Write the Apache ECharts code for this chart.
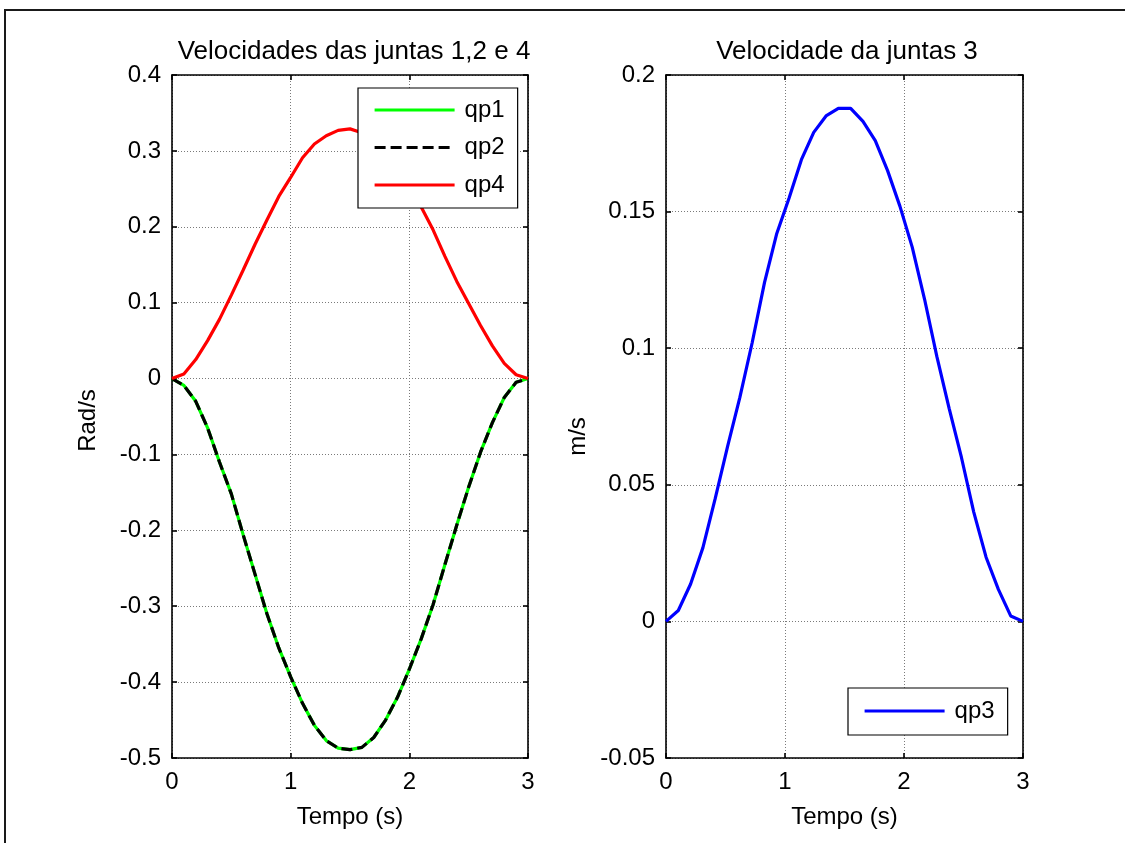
<!DOCTYPE html>
<html>
<head>
<meta charset="utf-8">
<script src="https://cdn.jsdelivr.net/npm/echarts@6/dist/echarts.min.js"></script>
<style>
html,body{margin:0;padding:0;background:#fff;}
#chart{width:1125px;height:843px;}
</style>
</head>
<body>
<div id="chart"></div>
<script>
// ---- data ----
const tLeft = [0,0.1,0.2,0.3,0.4,0.5,0.6,0.7,0.8,0.9,1.0,1.1,1.2,1.3,1.4,1.5,1.6,1.7,1.8,1.9,2.0,2.1,2.2,2.3,2.4,2.5,2.6,2.7,2.8,2.9,3.0];
const qp1 = [0,-0.009,-0.030,-0.065,-0.110,-0.152,-0.206,-0.258,-0.310,-0.355,-0.393,-0.428,-0.457,-0.477,-0.487,-0.489,-0.486,-0.473,-0.450,-0.420,-0.383,-0.343,-0.298,-0.245,-0.193,-0.143,-0.097,-0.058,-0.025,-0.005,0];
const qp2 = [0,-0.009,-0.030,-0.065,-0.110,-0.152,-0.206,-0.258,-0.310,-0.355,-0.393,-0.428,-0.457,-0.477,-0.487,-0.489,-0.486,-0.473,-0.450,-0.420,-0.383,-0.343,-0.298,-0.245,-0.193,-0.143,-0.097,-0.058,-0.025,-0.005,0];
const qp4 = [0,0.006,0.025,0.050,0.078,0.110,0.143,0.177,0.209,0.240,0.265,0.291,0.309,0.320,0.327,0.329,0.324,0.313,0.296,0.273,0.248,0.226,0.196,0.161,0.128,0.099,0.070,0.043,0.020,0.005,0];
const tRight = [0,0.1034,0.2069,0.3103,0.4138,0.5172,0.6207,0.7241,0.8276,0.9310,1.0345,1.1379,1.2414,1.3448,1.4483,1.5517,1.6552,1.7586,1.8621,1.9655,2.0690,2.1724,2.2759,2.3793,2.4828,2.5862,2.6897,2.7931,2.8966,3.0];
const qp3 = [0,0.004,0.0137,0.027,0.045,0.064,0.082,0.102,0.124,0.142,0.155,0.169,0.179,0.185,0.1878,0.1878,0.183,0.176,0.165,0.152,0.137,0.118,0.097,0.078,0.060,0.040,0.0235,0.0117,0.002,0];
const titles = ['Velocidades das juntas 1,2 e 4', 'Velocidade da juntas 3'];
const xName = 'Tempo (s)';
const yNames = ['Rad/s', 'm/s'];
const leftLegend = ['qp1', 'qp2', 'qp4'];
const rightLegend = ['qp3'];

const FONT = "'Liberation Sans', Arial, Helvetica, sans-serif";
const pairs = (xs, ys) => xs.map((x, i) => [x, ys[i]]);

const chart = echarts.init(document.getElementById('chart'), null, {renderer: 'canvas'});

const axisLine = {show: true, onZero: false, lineStyle: {color: '#000', width: 1.6}};
const tick = {show: true, inside: true, length: 5, lineStyle: {color: '#000', width: 1.6}};
const split = {show: true, lineStyle: {color: '#7a7a7a', width: 1, type: [1, 2]}};
const lbl = {color: '#000', fontSize: 24, fontFamily: FONT};
const LW = 3.2;

function xAxes(gi) {
  return [
    {gridIndex: gi, type: 'value', position: 'bottom', min: 0, max: 3, interval: 1,
     axisLine, axisTick: tick, splitLine: split,
     axisLabel: Object.assign({margin: 12}, lbl),
     name: xName, nameLocation: 'middle', nameGap: 47,
     nameTextStyle: {color: '#000', fontSize: 24, fontFamily: FONT, lineHeight: 24}},
    {gridIndex: gi, type: 'value', position: 'top', min: 0, max: 3, interval: 1,
     axisLine, axisTick: tick, splitLine: {show: false}, axisLabel: {show: false}}
  ];
}
function yAxes(gi, min, max, interval, name, gap, shift) {
  return [
    {gridIndex: gi, type: 'value', position: 'left', min, max, interval,
     axisLine, axisTick: tick, splitLine: split,
     axisLabel: Object.assign({margin: 11}, lbl),
     name, nameLocation: 'middle', nameGap: gap, nameRotate: 90,
     nameTextStyle: {color: '#000', fontSize: 24, fontFamily: FONT, lineHeight: 24, padding: [0, shift, 0, 0]}},
    {gridIndex: gi, type: 'value', position: 'right', min, max, interval,
     axisLine, axisTick: tick, splitLine: {show: false}, axisLabel: {show: false}}
  ];
}

const legendCommon = {
  orient: 'vertical', itemWidth: 80, itemHeight: 14,
  borderColor: '#000', borderWidth: 1.2, backgroundColor: '#fff',
  itemStyle: {opacity: 0},
  lineStyle: {width: LW},
  textStyle: {fontSize: 24, color: '#000', fontFamily: FONT, lineHeight: 24, padding: [0,0,0,5]}
};

const option = {
  backgroundColor: '#fff',
  animation: false,
  textStyle: {fontFamily: FONT},
  graphic: [{
    type: 'rect', silent: true,
    shape: {x: 5, y: 10, width: 1200, height: 900},
    style: {fill: 'none', stroke: '#1a1a1a', lineWidth: 2}
  }],
  title: [
    {text: titles[0], left: 349, top: 34, textAlign: 'center',
     textStyle: {fontSize: 26, fontWeight: 'normal', color: '#000', fontFamily: FONT, lineHeight: 26}},
    {text: titles[1], left: 842, top: 34, textAlign: 'center',
     textStyle: {fontSize: 26, fontWeight: 'normal', color: '#000', fontFamily: FONT, lineHeight: 26}}
  ],
  grid: [
    {left: 172, top: 75, width: 356, height: 683},
    {left: 666, top: 75, width: 357, height: 683}
  ],
  xAxis: [...xAxes(0), ...xAxes(1)],
  yAxis: [...yAxes(0, -0.5, 0.4, 0.1, yNames[0], 72, 8), ...yAxes(1, -0.05, 0.2, 0.05, yNames[1], 76, 40)],
  legend: [
    Object.assign({}, legendCommon, {data: leftLegend, left: 358, top: 88, itemGap: 13.5,
      padding: [10, 13, 11, 15]}),
    Object.assign({}, legendCommon, {data: rightLegend, left: 848, top: 688,
      padding: [11, 13, 12, 15]})
  ],
  series: [
    {name: 'qp1', type: 'line', xAxisIndex: 0, yAxisIndex: 0, data: pairs(tLeft, qp1),
     symbol: 'none', color: '#00ff00', lineStyle: {color: '#00ff00', width: LW}},
    {name: 'qp2', type: 'line', xAxisIndex: 0, yAxisIndex: 0, data: pairs(tLeft, qp2),
     symbol: 'none', color: '#000000', lineStyle: {color: '#000000', width: LW, type: [11, 5]}},
    {name: 'qp4', type: 'line', xAxisIndex: 0, yAxisIndex: 0, data: pairs(tLeft, qp4),
     symbol: 'none', color: '#ff0000', lineStyle: {color: '#ff0000', width: LW}},
    {name: 'qp3', type: 'line', xAxisIndex: 2, yAxisIndex: 2, data: pairs(tRight, qp3),
     symbol: 'none', color: '#0000ff', lineStyle: {color: '#0000ff', width: LW}}
  ]
};
chart.setOption(option);
</script>
</body>
</html>
